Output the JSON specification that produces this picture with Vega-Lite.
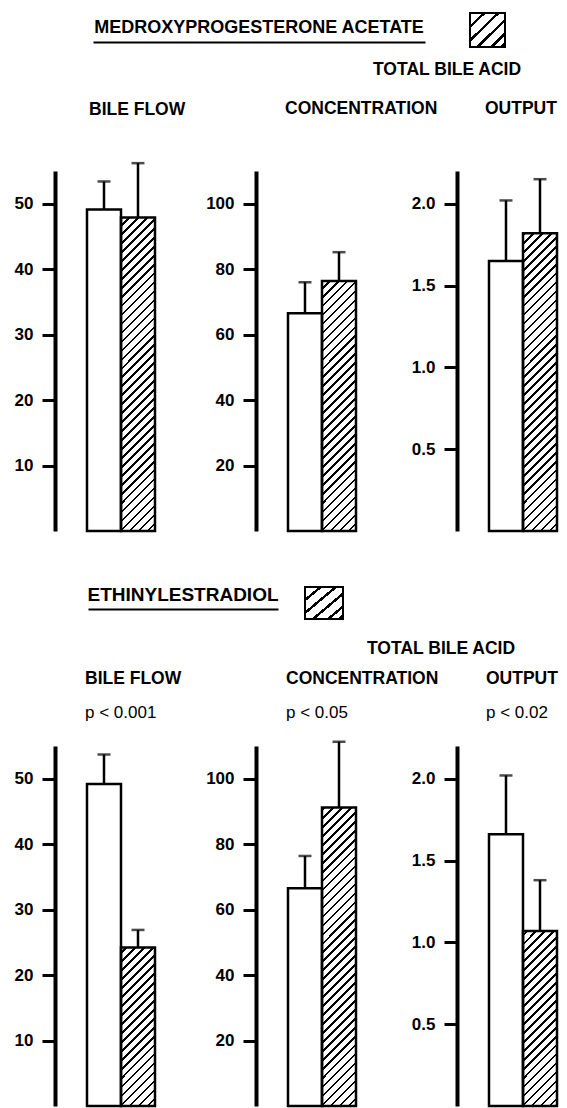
{
"$schema": "https://vega.github.io/schema/vega-lite/v6.json",
"padding": {"left": 14, "top": 12, "right": 0, "bottom": 0},
"background": "white",
"params": [
 {"name": "swatchFill", "value": {"gradient": "linear", "x1": 0, "y1": 0, "x2": 1, "y2": 1, "stops": [
    {"offset": 0, "color": "#fff"}, {"offset": 0.18, "color": "#fff"}, {"offset": 0.18, "color": "#000"}, {"offset": 0.23, "color": "#000"},
    {"offset": 0.23, "color": "#fff"}, {"offset": 0.38, "color": "#fff"}, {"offset": 0.38, "color": "#000"}, {"offset": 0.43, "color": "#000"},
    {"offset": 0.43, "color": "#fff"}, {"offset": 0.58, "color": "#fff"}, {"offset": 0.58, "color": "#000"}, {"offset": 0.63, "color": "#000"},
    {"offset": 0.63, "color": "#fff"}, {"offset": 0.78, "color": "#fff"}, {"offset": 0.78, "color": "#000"}, {"offset": 0.83, "color": "#000"},
    {"offset": 0.83, "color": "#fff"}, {"offset": 0.92, "color": "#fff"}, {"offset": 0.92, "color": "#000"}, {"offset": 1, "color": "#000"}]}},
 {"name": "hatchFill", "value": {"gradient": "linear", "x1": 0, "y1": 0, "x2": 0.1025, "y2": 1.0848, "stops": [
  {"offset": 0, "color": "#000"}, {"offset": 0.0068, "color": "#000"}, {"offset": 0.0068, "color": "#fff"}, {"offset": 0.0227, "color": "#fff"},
  {"offset": 0.0227, "color": "#000"}, {"offset": 0.0295, "color": "#000"}, {"offset": 0.0295, "color": "#fff"}, {"offset": 0.0455, "color": "#fff"},
  {"offset": 0.0455, "color": "#000"}, {"offset": 0.0523, "color": "#000"}, {"offset": 0.0523, "color": "#fff"}, {"offset": 0.0682, "color": "#fff"},
  {"offset": 0.0682, "color": "#000"}, {"offset": 0.075, "color": "#000"}, {"offset": 0.075, "color": "#fff"}, {"offset": 0.0909, "color": "#fff"},
  {"offset": 0.0909, "color": "#000"}, {"offset": 0.0977, "color": "#000"}, {"offset": 0.0977, "color": "#fff"}, {"offset": 0.1136, "color": "#fff"},
  {"offset": 0.1136, "color": "#000"}, {"offset": 0.1205, "color": "#000"}, {"offset": 0.1205, "color": "#fff"}, {"offset": 0.1364, "color": "#fff"},
  {"offset": 0.1364, "color": "#000"}, {"offset": 0.1432, "color": "#000"}, {"offset": 0.1432, "color": "#fff"}, {"offset": 0.1591, "color": "#fff"},
  {"offset": 0.1591, "color": "#000"}, {"offset": 0.1659, "color": "#000"}, {"offset": 0.1659, "color": "#fff"}, {"offset": 0.1818, "color": "#fff"},
  {"offset": 0.1818, "color": "#000"}, {"offset": 0.1886, "color": "#000"}, {"offset": 0.1886, "color": "#fff"}, {"offset": 0.2045, "color": "#fff"},
  {"offset": 0.2045, "color": "#000"}, {"offset": 0.2114, "color": "#000"}, {"offset": 0.2114, "color": "#fff"}, {"offset": 0.2273, "color": "#fff"},
  {"offset": 0.2273, "color": "#000"}, {"offset": 0.2341, "color": "#000"}, {"offset": 0.2341, "color": "#fff"}, {"offset": 0.25, "color": "#fff"},
  {"offset": 0.25, "color": "#000"}, {"offset": 0.2568, "color": "#000"}, {"offset": 0.2568, "color": "#fff"}, {"offset": 0.2727, "color": "#fff"},
  {"offset": 0.2727, "color": "#000"}, {"offset": 0.2795, "color": "#000"}, {"offset": 0.2795, "color": "#fff"}, {"offset": 0.2955, "color": "#fff"},
  {"offset": 0.2955, "color": "#000"}, {"offset": 0.3023, "color": "#000"}, {"offset": 0.3023, "color": "#fff"}, {"offset": 0.3182, "color": "#fff"},
  {"offset": 0.3182, "color": "#000"}, {"offset": 0.325, "color": "#000"}, {"offset": 0.325, "color": "#fff"}, {"offset": 0.3409, "color": "#fff"},
  {"offset": 0.3409, "color": "#000"}, {"offset": 0.3477, "color": "#000"}, {"offset": 0.3477, "color": "#fff"}, {"offset": 0.3636, "color": "#fff"},
  {"offset": 0.3636, "color": "#000"}, {"offset": 0.3705, "color": "#000"}, {"offset": 0.3705, "color": "#fff"}, {"offset": 0.3864, "color": "#fff"},
  {"offset": 0.3864, "color": "#000"}, {"offset": 0.3932, "color": "#000"}, {"offset": 0.3932, "color": "#fff"}, {"offset": 0.4091, "color": "#fff"},
  {"offset": 0.4091, "color": "#000"}, {"offset": 0.4159, "color": "#000"}, {"offset": 0.4159, "color": "#fff"}, {"offset": 0.4318, "color": "#fff"},
  {"offset": 0.4318, "color": "#000"}, {"offset": 0.4386, "color": "#000"}, {"offset": 0.4386, "color": "#fff"}, {"offset": 0.4545, "color": "#fff"},
  {"offset": 0.4545, "color": "#000"}, {"offset": 0.4614, "color": "#000"}, {"offset": 0.4614, "color": "#fff"}, {"offset": 0.4773, "color": "#fff"},
  {"offset": 0.4773, "color": "#000"}, {"offset": 0.4841, "color": "#000"}, {"offset": 0.4841, "color": "#fff"}, {"offset": 0.5, "color": "#fff"},
  {"offset": 0.5, "color": "#000"}, {"offset": 0.5068, "color": "#000"}, {"offset": 0.5068, "color": "#fff"}, {"offset": 0.5227, "color": "#fff"},
  {"offset": 0.5227, "color": "#000"}, {"offset": 0.5295, "color": "#000"}, {"offset": 0.5295, "color": "#fff"}, {"offset": 0.5455, "color": "#fff"},
  {"offset": 0.5455, "color": "#000"}, {"offset": 0.5523, "color": "#000"}, {"offset": 0.5523, "color": "#fff"}, {"offset": 0.5682, "color": "#fff"},
  {"offset": 0.5682, "color": "#000"}, {"offset": 0.575, "color": "#000"}, {"offset": 0.575, "color": "#fff"}, {"offset": 0.5909, "color": "#fff"},
  {"offset": 0.5909, "color": "#000"}, {"offset": 0.5977, "color": "#000"}, {"offset": 0.5977, "color": "#fff"}, {"offset": 0.6136, "color": "#fff"},
  {"offset": 0.6136, "color": "#000"}, {"offset": 0.6205, "color": "#000"}, {"offset": 0.6205, "color": "#fff"}, {"offset": 0.6364, "color": "#fff"},
  {"offset": 0.6364, "color": "#000"}, {"offset": 0.6432, "color": "#000"}, {"offset": 0.6432, "color": "#fff"}, {"offset": 0.6591, "color": "#fff"},
  {"offset": 0.6591, "color": "#000"}, {"offset": 0.6659, "color": "#000"}, {"offset": 0.6659, "color": "#fff"}, {"offset": 0.6818, "color": "#fff"},
  {"offset": 0.6818, "color": "#000"}, {"offset": 0.6886, "color": "#000"}, {"offset": 0.6886, "color": "#fff"}, {"offset": 0.7045, "color": "#fff"},
  {"offset": 0.7045, "color": "#000"}, {"offset": 0.7114, "color": "#000"}, {"offset": 0.7114, "color": "#fff"}, {"offset": 0.7273, "color": "#fff"},
  {"offset": 0.7273, "color": "#000"}, {"offset": 0.7341, "color": "#000"}, {"offset": 0.7341, "color": "#fff"}, {"offset": 0.75, "color": "#fff"},
  {"offset": 0.75, "color": "#000"}, {"offset": 0.7568, "color": "#000"}, {"offset": 0.7568, "color": "#fff"}, {"offset": 0.7727, "color": "#fff"},
  {"offset": 0.7727, "color": "#000"}, {"offset": 0.7795, "color": "#000"}, {"offset": 0.7795, "color": "#fff"}, {"offset": 0.7955, "color": "#fff"},
  {"offset": 0.7955, "color": "#000"}, {"offset": 0.8023, "color": "#000"}, {"offset": 0.8023, "color": "#fff"}, {"offset": 0.8182, "color": "#fff"},
  {"offset": 0.8182, "color": "#000"}, {"offset": 0.825, "color": "#000"}, {"offset": 0.825, "color": "#fff"}, {"offset": 0.8409, "color": "#fff"},
  {"offset": 0.8409, "color": "#000"}, {"offset": 0.8477, "color": "#000"}, {"offset": 0.8477, "color": "#fff"}, {"offset": 0.8636, "color": "#fff"},
  {"offset": 0.8636, "color": "#000"}, {"offset": 0.8705, "color": "#000"}, {"offset": 0.8705, "color": "#fff"}, {"offset": 0.8864, "color": "#fff"},
  {"offset": 0.8864, "color": "#000"}, {"offset": 0.8932, "color": "#000"}, {"offset": 0.8932, "color": "#fff"}, {"offset": 0.9091, "color": "#fff"},
  {"offset": 0.9091, "color": "#000"}, {"offset": 0.9159, "color": "#000"}, {"offset": 0.9159, "color": "#fff"}, {"offset": 0.9318, "color": "#fff"},
  {"offset": 0.9318, "color": "#000"}, {"offset": 0.9386, "color": "#000"}, {"offset": 0.9386, "color": "#fff"}, {"offset": 0.9545, "color": "#fff"},
  {"offset": 0.9545, "color": "#000"}, {"offset": 0.9614, "color": "#000"}, {"offset": 0.9614, "color": "#fff"}, {"offset": 0.9773, "color": "#fff"},
  {"offset": 0.9773, "color": "#000"}, {"offset": 0.9841, "color": "#000"}, {"offset": 0.9841, "color": "#fff"}, {"offset": 1, "color": "#fff"}]}}
],
"datasets": {"bile": [
 {"study": "Medroxyprogesterone acetate", "measure": "Bile flow", "group": "Control", "mean": 49.1, "upper": 53.4},
 {"study": "Medroxyprogesterone acetate", "measure": "Bile flow", "group": "Treated", "mean": 47.9, "upper": 56.2},
 {"study": "Medroxyprogesterone acetate", "measure": "Concentration", "group": "Control", "mean": 66.5, "upper": 76.0},
 {"study": "Medroxyprogesterone acetate", "measure": "Concentration", "group": "Treated", "mean": 76.4, "upper": 85.2},
 {"study": "Medroxyprogesterone acetate", "measure": "Output", "group": "Control", "mean": 1.65, "upper": 2.02},
 {"study": "Medroxyprogesterone acetate", "measure": "Output", "group": "Treated", "mean": 1.82, "upper": 2.15},
 {"study": "Ethinylestradiol", "measure": "Bile flow", "group": "Control", "mean": 49.2, "upper": 53.7},
 {"study": "Ethinylestradiol", "measure": "Bile flow", "group": "Treated", "mean": 24.2, "upper": 26.9},
 {"study": "Ethinylestradiol", "measure": "Concentration", "group": "Control", "mean": 66.5, "upper": 76.4},
 {"study": "Ethinylestradiol", "measure": "Concentration", "group": "Treated", "mean": 91.2, "upper": 111.3},
 {"study": "Ethinylestradiol", "measure": "Output", "group": "Control", "mean": 1.66, "upper": 2.02},
 {"study": "Ethinylestradiol", "measure": "Output", "group": "Treated", "mean": 1.07, "upper": 1.38}
]},
"vconcat": [
 {"vconcat": [
   {"hconcat": [
     {"width": 1, "height": 1, "data": {"values": []}, "mark": {"type": "point", "size": 0}},
     {"hconcat": [
       {"width": 332, "height": 29,
        "data": {"values": [{"label": "MEDROXYPROGESTERONE ACETATE"}]},
        "mark": {"type": "text", "font": "Liberation Sans", "fontSize": 18, "fontWeight": "bold", "color": "black", "baseline": "alphabetic", "dy": 5.5},
        "encoding": {
          "x": {"field": "label", "type": "nominal", "scale": {"paddingInner": 0, "paddingOuter": 0}, "axis": {"domainColor": "black", "domainWidth": 2, "ticks": false, "labels": false, "title": null}},
          "text": {"field": "label"}}},
       {"width": 35, "height": 34, "data": {"values": [{"study": "Medroxyprogesterone acetate"}]}, "mark": {"type": "rect", "fill": {"expr": "swatchFill"}, "stroke": "black", "strokeWidth": 2}}
     ], "spacing": 45, "bounds": "flush"}
   ], "spacing": 37, "bounds": "flush"},
   {"hconcat": [
     {"width": 106, "height": 360,
      "title": {"text": "BILE FLOW", "dx": 34, "offset": 43},
      "data": {"name": "bile"},
      "transform": [{"filter": "datum.study === 'Medroxyprogesterone acetate' && datum.measure === 'Bile flow'"}],
      "encoding": {
        "x": {"field": "group", "type": "nominal", "sort": ["Control", "Treated"], "axis": null, "scale": {"paddingInner": 0, "paddingOuter": 0.5588, "align": 0.842}},
        "y": {"field": "mean", "type": "quantitative", "title": null, "stack": null, "scale": {"domain": [0, 55], "nice": false}, "axis": {"values": [10, 20, 30, 40, 50]}}
      },
      "layer": [
        {"transform": [{"filter": "datum.group === 'Treated'"}], "mark": {"type": "bar", "fill": {"expr": "hatchFill"}, "strokeWidth": 0}, "encoding": {"y": {"datum": 55, "type": "quantitative", "title": null}}},
        {"transform": [{"filter": "datum.group === 'Treated'"}], "mark": {"type": "bar", "fill": "white"}, "encoding": {"y2": {"datum": 55}}},
        {"mark": {"type": "bar", "stroke": "black", "strokeWidth": 2.5}, "encoding": {"fill": {"field": "group", "type": "nominal", "scale": {"domain": ["Control", "Treated"], "range": ["white", "transparent"]}, "legend": null}}},
        {"mark": {"type": "rule", "color": "black", "strokeWidth": 2.5}, "encoding": {"y2": {"field": "upper"}}},
        {"mark": {"type": "tick", "color": "black", "size": 13, "thickness": 2.5}, "encoding": {"y": {"field": "upper", "type": "quantitative", "title": null}}}
      ]
     },
     {"width": 106, "height": 360,
      "title": {"text": "CONCENTRATION", "dx": 29, "offset": 54},
      "data": {"name": "bile"},
      "transform": [{"filter": "datum.study === 'Medroxyprogesterone acetate' && datum.measure === 'Concentration'"}],
      "encoding": {
        "x": {"field": "group", "type": "nominal", "sort": ["Control", "Treated"], "axis": null, "scale": {"paddingInner": 0, "paddingOuter": 0.5588, "align": 0.842}},
        "y": {"field": "mean", "type": "quantitative", "title": null, "stack": null, "scale": {"domain": [0, 110], "nice": false}, "axis": {"values": [20, 40, 60, 80, 100]}}
      },
      "layer": [
        {"transform": [{"filter": "datum.group === 'Treated'"}], "mark": {"type": "bar", "fill": {"expr": "hatchFill"}, "strokeWidth": 0}, "encoding": {"y": {"datum": 110, "type": "quantitative", "title": null}}},
        {"transform": [{"filter": "datum.group === 'Treated'"}], "mark": {"type": "bar", "fill": "white"}, "encoding": {"y2": {"datum": 110}}},
        {"mark": {"type": "bar", "stroke": "black", "strokeWidth": 2.5}, "encoding": {"fill": {"field": "group", "type": "nominal", "scale": {"domain": ["Control", "Treated"], "range": ["white", "transparent"]}, "legend": null}}},
        {"mark": {"type": "rule", "color": "black", "strokeWidth": 2.5}, "encoding": {"y2": {"field": "upper"}}},
        {"mark": {"type": "tick", "color": "black", "size": 13, "thickness": 2.5}, "encoding": {"y": {"field": "upper", "type": "quantitative", "title": null}}}
      ]
     },
     {"width": 106, "height": 360,
      "title": {"text": "OUTPUT", "dx": 28, "offset": 54},
      "data": {"name": "bile"},
      "transform": [{"filter": "datum.study === 'Medroxyprogesterone acetate' && datum.measure === 'Output'"}],
      "encoding": {
        "x": {"field": "group", "type": "nominal", "sort": ["Control", "Treated"], "axis": null, "scale": {"paddingInner": 0, "paddingOuter": 0.5588, "align": 0.842}},
        "y": {"field": "mean", "type": "quantitative", "title": null, "stack": null, "scale": {"domain": [0, 2.2], "nice": false}, "axis": {"values": [0.5, 1, 1.5, 2], "format": ".1f"}}
      },
      "layer": [
        {"transform": [{"filter": "datum.group === 'Treated'"}], "mark": {"type": "bar", "fill": {"expr": "hatchFill"}, "strokeWidth": 0}, "encoding": {"y": {"datum": 2.2, "type": "quantitative", "title": null}}},
        {"transform": [{"filter": "datum.group === 'Treated'"}], "mark": {"type": "bar", "fill": "white"}, "encoding": {"y2": {"datum": 2.2}}},
        {"mark": {"type": "bar", "stroke": "black", "strokeWidth": 2.5}, "encoding": {"fill": {"field": "group", "type": "nominal", "scale": {"domain": ["Control", "Treated"], "range": ["white", "transparent"]}, "legend": null}}},
        {"mark": {"type": "rule", "color": "black", "strokeWidth": 2.5}, "encoding": {"y2": {"field": "upper"}}},
        {"mark": {"type": "tick", "color": "black", "size": 13, "thickness": 2.5}, "encoding": {"y": {"field": "upper", "type": "quantitative", "title": null}}}
      ]
     }
   ], "spacing": 95, "bounds": "flush",
   "title": {"text": "TOTAL BILE ACID", "dx": 318, "offset": 21}}
 ], "spacing": 158, "bounds": "flush"},
 {"vconcat": [
   {"hconcat": [
     {"width": 1, "height": 1, "data": {"values": []}, "mark": {"type": "point", "size": 0}},
     {"hconcat": [
       {"width": 190, "height": 22,
        "data": {"values": [{"label": "ETHINYLESTRADIOL"}]},
        "mark": {"type": "text", "font": "Liberation Sans", "fontSize": 19, "fontWeight": "bold", "color": "black", "baseline": "alphabetic", "dy": 3},
        "encoding": {
          "x": {"field": "label", "type": "nominal", "scale": {"paddingInner": 0, "paddingOuter": 0}, "axis": {"domainColor": "black", "domainWidth": 2, "ticks": false, "labels": false, "title": null}},
          "text": {"field": "label"}}},
       {"width": 38, "height": 32, "data": {"values": [{"study": "Ethinylestradiol"}]}, "mark": {"type": "rect", "fill": {"expr": "swatchFill"}, "stroke": "black", "strokeWidth": 2}}
     ], "spacing": 27, "bounds": "flush"}
   ], "spacing": 32, "bounds": "flush"},
   {"hconcat": [
     {"width": 106, "height": 360,
      "title": {"text": "BILE FLOW", "subtitle": "p < 0.001", "dx": 30, "offset": 25},
      "data": {"name": "bile"},
      "transform": [{"filter": "datum.study === 'Ethinylestradiol' && datum.measure === 'Bile flow'"}],
      "encoding": {
        "x": {"field": "group", "type": "nominal", "sort": ["Control", "Treated"], "axis": null, "scale": {"paddingInner": 0, "paddingOuter": 0.5588, "align": 0.842}},
        "y": {"field": "mean", "type": "quantitative", "title": null, "stack": null, "scale": {"domain": [0, 55], "nice": false}, "axis": {"values": [10, 20, 30, 40, 50]}}
      },
      "layer": [
        {"transform": [{"filter": "datum.group === 'Treated'"}], "mark": {"type": "bar", "fill": {"expr": "hatchFill"}, "strokeWidth": 0}, "encoding": {"y": {"datum": 55, "type": "quantitative", "title": null}}},
        {"transform": [{"filter": "datum.group === 'Treated'"}], "mark": {"type": "bar", "fill": "white"}, "encoding": {"y2": {"datum": 55}}},
        {"mark": {"type": "bar", "stroke": "black", "strokeWidth": 2.5}, "encoding": {"fill": {"field": "group", "type": "nominal", "scale": {"domain": ["Control", "Treated"], "range": ["white", "transparent"]}, "legend": null}}},
        {"mark": {"type": "rule", "color": "black", "strokeWidth": 2.5}, "encoding": {"y2": {"field": "upper"}}},
        {"mark": {"type": "tick", "color": "black", "size": 13, "thickness": 2.5}, "encoding": {"y": {"field": "upper", "type": "quantitative", "title": null}}}
      ]
     },
     {"width": 106, "height": 360,
      "title": {"text": "CONCENTRATION", "subtitle": "p < 0.05", "dx": 30, "offset": 19},
      "data": {"name": "bile"},
      "transform": [{"filter": "datum.study === 'Ethinylestradiol' && datum.measure === 'Concentration'"}],
      "encoding": {
        "x": {"field": "group", "type": "nominal", "sort": ["Control", "Treated"], "axis": null, "scale": {"paddingInner": 0, "paddingOuter": 0.5588, "align": 0.842}},
        "y": {"field": "mean", "type": "quantitative", "title": null, "stack": null, "scale": {"domain": [0, 110], "nice": false}, "axis": {"values": [20, 40, 60, 80, 100]}}
      },
      "layer": [
        {"transform": [{"filter": "datum.group === 'Treated'"}], "mark": {"type": "bar", "fill": {"expr": "hatchFill"}, "strokeWidth": 0}, "encoding": {"y": {"datum": 110, "type": "quantitative", "title": null}}},
        {"transform": [{"filter": "datum.group === 'Treated'"}], "mark": {"type": "bar", "fill": "white"}, "encoding": {"y2": {"datum": 110}}},
        {"mark": {"type": "bar", "stroke": "black", "strokeWidth": 2.5}, "encoding": {"fill": {"field": "group", "type": "nominal", "scale": {"domain": ["Control", "Treated"], "range": ["white", "transparent"]}, "legend": null}}},
        {"mark": {"type": "rule", "color": "black", "strokeWidth": 2.5}, "encoding": {"y2": {"field": "upper"}}},
        {"mark": {"type": "tick", "color": "black", "size": 13, "thickness": 2.5}, "encoding": {"y": {"field": "upper", "type": "quantitative", "title": null}}}
      ]
     },
     {"width": 106, "height": 360,
      "title": {"text": "OUTPUT", "subtitle": "p < 0.02", "dx": 29, "offset": 25},
      "data": {"name": "bile"},
      "transform": [{"filter": "datum.study === 'Ethinylestradiol' && datum.measure === 'Output'"}],
      "encoding": {
        "x": {"field": "group", "type": "nominal", "sort": ["Control", "Treated"], "axis": null, "scale": {"paddingInner": 0, "paddingOuter": 0.5588, "align": 0.842}},
        "y": {"field": "mean", "type": "quantitative", "title": null, "stack": null, "scale": {"domain": [0, 2.2], "nice": false}, "axis": {"values": [0.5, 1, 1.5, 2], "format": ".1f"}}
      },
      "layer": [
        {"transform": [{"filter": "datum.group === 'Treated'"}], "mark": {"type": "bar", "fill": {"expr": "hatchFill"}, "strokeWidth": 0}, "encoding": {"y": {"datum": 2.2, "type": "quantitative", "title": null}}},
        {"transform": [{"filter": "datum.group === 'Treated'"}], "mark": {"type": "bar", "fill": "white"}, "encoding": {"y2": {"datum": 2.2}}},
        {"mark": {"type": "bar", "stroke": "black", "strokeWidth": 2.5}, "encoding": {"fill": {"field": "group", "type": "nominal", "scale": {"domain": ["Control", "Treated"], "range": ["white", "transparent"]}, "legend": null}}},
        {"mark": {"type": "rule", "color": "black", "strokeWidth": 2.5}, "encoding": {"y2": {"field": "upper"}}},
        {"mark": {"type": "tick", "color": "black", "size": 13, "thickness": 2.5}, "encoding": {"y": {"field": "upper", "type": "quantitative", "title": null}}}
      ]
     }
   ], "spacing": 95, "bounds": "flush",
   "title": {"text": "TOTAL BILE ACID", "dx": 312, "offset": 12}}
 ], "spacing": 159, "bounds": "flush"}
],
"spacing": 574,
"bounds": "flush",
"config": {
 "view": {"stroke": null},
 "font": "Liberation Sans",
 "axisY": {"domainColor": "black", "domainWidth": 4, "tickColor": "black", "tickWidth": 3, "tickSize": 13, "labelFont": "Liberation Sans", "labelFontSize": 17, "labelFontWeight": "bold", "labelColor": "black", "labelPadding": 9, "grid": false},
 "title": {"font": "Liberation Sans", "fontSize": 17.5, "fontWeight": "bold", "color": "black", "anchor": "start", "frame": "group", "subtitleFont": "Liberation Sans", "subtitleFontSize": 17, "subtitleFontWeight": "normal", "subtitleColor": "black", "subtitlePadding": 18}
}
}
